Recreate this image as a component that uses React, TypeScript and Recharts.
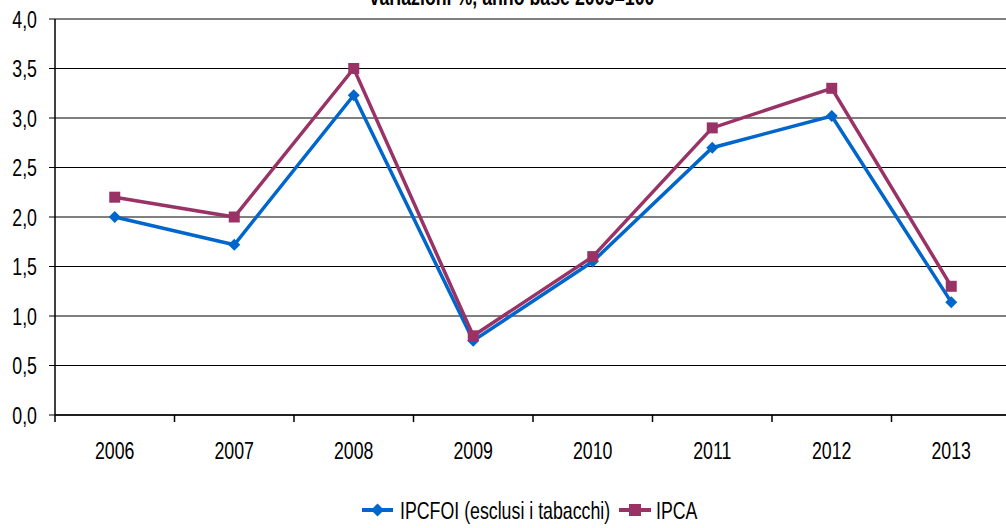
import { CartesianGrid, Legend, Line, LineChart, XAxis, YAxis } from 'recharts'

const anni = ['2006', '2007', '2008', '2009', '2010', '2011', '2012', '2013']
const ipcfoi = [2.0, 1.72, 3.23, 0.75, 1.55, 2.7, 3.02, 1.14]
const ipca = [2.2, 2.0, 3.5, 0.8, 1.6, 2.9, 3.3, 1.3]
const tickY = [0, 0.5, 1, 1.5, 2, 2.5, 3, 3.5, 4]

const BLU = '#0066CC'
const VIOLA = '#993366'
const FONT = '"Liberation Sans", Arial, sans-serif'
// niente Arial Narrow installato: si stringe il testo in orizzontale
const STRETTO = 0.74
const CORPO = 24

const W = 1012
const H = 528
const ASSE_Y = 55
const MARGINE_DX = 1
const MEZZA_BANDA = (W - ASSE_Y - MARGINE_DX) / anni.length / 2

const dati = anni.map((anno, i) => ({ anno, ipcfoi: ipcfoi[i], ipca: ipca[i] }))

const virgola = (v: number) => v.toFixed(1).replace('.', ',')

function Testo({ x, y, anchor, size = CORPO, children, bold }: any) {
  return (
    <text
      transform={`translate(${x},${y}) scale(${STRETTO},1)`}
      textAnchor={anchor}
      fill="#000"
      fontSize={size}
      fontFamily={FONT}
      fontWeight={bold ? 'bold' : 'normal'}
    >
      {children}
    </text>
  )
}

function Rombo({ cx, cy, fill }: any) {
  if (cx == null || cy == null) return null
  const r = 6
  return <path d={`M${cx},${cy - r}L${cx + r},${cy}L${cx},${cy + r}L${cx - r},${cy}Z`} fill={fill} />
}

function Quadrato({ cx, cy, fill }: any) {
  if (cx == null || cy == null) return null
  const r = 5.5
  return <rect x={cx - r} y={cy - r} width={r * 2} height={r * 2} fill={fill} />
}

function TickAnno({ x, y, payload }: any) {
  return (
    <g>
      <line x1={x - MEZZA_BANDA} x2={x - MEZZA_BANDA} y1={y} y2={y + 7} stroke="#000" strokeWidth={1.5} />
      <Testo x={x} y={y + 44} anchor="middle">
        {payload.value}
      </Testo>
    </g>
  )
}

function TickValore({ x, y, payload }: any) {
  return (
    <Testo x={x} y={y + 8.5} anchor="end">
      {virgola(payload.value)}
    </Testo>
  )
}

function Leggenda() {
  return (
    <svg width={1006} height={30} style={{ display: 'block' }}>
      <line x1={362} x2={393} y1={15} y2={15} stroke={BLU} strokeWidth={4} />
      <path d="M377.5,8.5L384,15L377.5,21.5L371,15Z" fill={BLU} />
      <Testo x={400} y={23.5} anchor="start">
        IPCFOI (esclusi i tabacchi)
      </Testo>
      <line x1={619} x2={651} y1={15} y2={15} stroke={VIOLA} strokeWidth={4} />
      <rect x={629} y={9} width={12} height={12} fill={VIOLA} />
      <Testo x={656} y={23.5} anchor="start">
        IPCA
      </Testo>
    </svg>
  )
}

export default function App() {
  return (
    <div style={{ position: 'absolute', left: 0, top: 0, width: 1006, height: H, overflow: 'hidden', background: '#fff' }}>
      <svg width={1006} height={12} style={{ position: 'absolute', left: 0, top: 0 }}>
        <Testo x={512} y={5} anchor="middle" bold>
          variazioni %, anno base 2005=100
        </Testo>
      </svg>
      <LineChart width={W} height={H} data={dati} margin={{ top: 19, right: MARGINE_DX, left: 0, bottom: 3 }}>
        <CartesianGrid vertical={false} stroke="#000" strokeWidth={1} />
        <XAxis
          dataKey="anno"
          padding={{ left: MEZZA_BANDA, right: MEZZA_BANDA }}
          axisLine={{ stroke: '#000', strokeWidth: 1.5 }}
          tickLine={false}
          tickSize={0}
          tickMargin={0}
          height={80}
          interval={0}
          tick={<TickAnno />}
        />
        <YAxis
          width={ASSE_Y}
          domain={[0, 4]}
          ticks={tickY}
          axisLine={{ stroke: '#000', strokeWidth: 1.5 }}
          tickLine={{ stroke: '#000' }}
          tickSize={6}
          tickMargin={12}
          tick={<TickValore />}
          interval={0}
        />
        <Legend verticalAlign="bottom" height={30} content={<Leggenda />} />
        <Line
          dataKey="ipcfoi"
          name="IPCFOI (esclusi i tabacchi)"
          stroke={BLU}
          strokeWidth={3.5}
          dot={<Rombo fill={BLU} />}
          isAnimationActive={false}
        />
        <Line
          dataKey="ipca"
          name="IPCA"
          stroke={VIOLA}
          strokeWidth={3.5}
          dot={<Quadrato fill={VIOLA} />}
          isAnimationActive={false}
        />
      </LineChart>
    </div>
  )
}
